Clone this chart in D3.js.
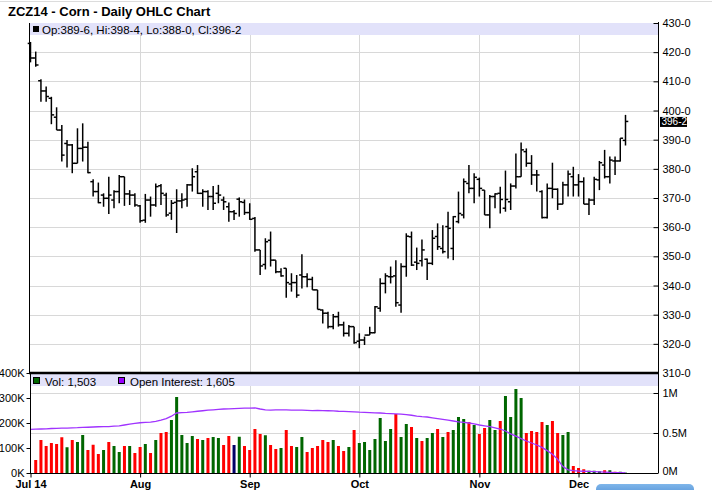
<!DOCTYPE html>
<html><head><meta charset="utf-8">
<script src="https://cdn.jsdelivr.net/npm/d3@7"></script>
<style>
body{margin:0;background:#fff;}
svg{display:block;font-family:"Liberation Sans",Arial,sans-serif;}
</style>
</head><body>
<svg id="c" width="712" height="490"></svg>
<script>
const title = "ZCZ14 - Corn - Daily OHLC Chart";
const monthLabels = ["Jul 14","Aug","Sep","Oct","Nov","Dec"];
const monthStartIdx = [0,21,42,63,86,105];

const opens = [423,418,410.2,406.7,404.2,397.7,393.3,388.7,388.2,381.9,387,387.4,375.6,372.2,371,369.9,369.3,372.2,377.3,371.4,371,367.3,362.4,369.3,367.6,374.2,371,364.8,368.5,369,369.6,374.5,379,371.6,372.2,370.5,371.6,369.3,367,365.3,369.6,368.5,365,363,352.2,347.2,355.5,348.7,344.7,345.9,340.5,341,343.6,343,342.1,338.5,331.6,330.5,325.9,329.3,326.5,323.6,325.9,320.9,321.3,323,323.8,332.2,340.7,343,343.3,333.3,346.5,356.7,348,348.5,349,347.6,356.8,352.7,360.2,352.7,361.9,364.2,375,373.3,376.4,372.7,364.2,370.5,371.6,366.5,368.7,374.1,377.3,385.9,381.9,377.9,372.2,363.3,373.3,373,367.9,374.5,377.3,374.5,375.6,367.9,369.3,376.2,381.3,377.3,382.7,382.7,389.75];
const highs = [423.5,420.2,410.7,408.2,404.7,401.1,395,389.9,388.5,393.9,395.6,389.3,376.4,375.3,371.6,377.3,372.7,377.9,377.3,372.7,371.6,367.6,371.4,370.5,375,374.8,371.8,369.3,373,371.6,374.8,380.2,381.3,373,372.7,374.1,374.5,370.5,368.5,365.9,370.2,369.5,368.2,363.5,352.2,356.2,358.5,348.7,345.9,345.9,344.2,343.6,350.7,344.2,343,338.5,331.8,331,330.2,331,327.6,326.5,325.9,323.6,322.5,325.9,333,342.5,344.2,346.5,348.7,347.6,357.9,358.5,353,355.8,349.3,359,361.3,360.7,365.3,363.8,372.2,376.7,381.3,378.5,377,372.7,371,371.6,373.9,379.4,375,385.3,389,387,384.7,379.6,372.7,375,382.1,373.3,375.6,379.4,380.7,378.2,377.1,369.9,377.3,382.7,386.5,384.2,384.2,390.5,398.5];
const lows = [416.5,415,403,403,395.3,393.3,382.5,380.5,378.5,381.9,382.5,378.5,370.5,368.2,367,364.5,366.5,368.2,367.3,367.6,367,361.5,361.5,363.6,367,367.6,363.6,362.5,358,366.5,367,372.2,371.4,367,365.9,365.9,368.2,365.9,361.9,362.5,363.6,364.2,362.5,351.6,343.6,345.5,346.5,344.2,343,335.8,337.9,335.8,339,339.4,338.5,331.8,327,325.3,325,325.9,322.5,322.5,320,318.5,319.6,323,323.6,331,337.3,340.7,332.7,330.7,343,346.7,345.3,346.5,341.9,347,352.2,351,349.3,348.7,361.3,363,371.6,368.2,370.5,364.2,359.6,366.5,364.7,365.3,365.9,373.3,377.3,380.7,374.5,372.2,363,363,369.9,365.9,367.9,370.5,370.5,370.5,367.9,364.2,367.6,372.7,376.7,375,377.9,382.5,388];
const closes = [418,415.6,406.7,404.8,398.5,393.3,384.7,388.2,381.9,387,387.4,378.7,372.2,368.4,369.9,371,372.2,377.3,371.4,371,367.6,362.2,369.3,367.6,373.9,371.6,364.2,368.2,369,369.3,374.5,377.3,371.6,372.2,370.5,368.2,371,368.7,365.3,364.7,368.7,365,362.7,352.2,346.7,355,348.7,344.7,343.3,341,341,336.7,343,342.1,338.5,331.8,330.5,325.9,329.3,326.5,323.6,325.9,320.4,321.3,323,323.8,332.7,340.7,343.3,343,334.1,346.5,356.9,347,347.6,352.2,347.6,356.2,353.3,351.6,359.6,363.6,364.7,375.6,373.3,377.1,373.3,364.2,370.5,371.4,369.5,369.5,374.1,377.3,386.5,381.9,377.9,377.9,363.3,373.3,373,367.9,374.5,378.2,374.5,375.6,367.9,369.3,376.4,382.1,377.3,383,382.7,390.5,396.25];

// volume in thousands (index 0 hidden behind the axis)
const volumes = [null,52,132,108,120,116,143,103,132,124,152,92,113,76,92,124,108,84,108,108,80,104,116,80,132,160,164,212,304,152,120,148,136,132,140,144,140,112,148,112,145,108,92,176,156,151,112,96,100,172,108,104,144,84,100,108,132,124,132,108,88,104,172,120,124,92,136,220,128,176,236,144,196,184,140,128,140,160,176,144,164,172,224,216,204,192,156,180,212,172,208,308,224,336,300,160,168,164,204,192,208,160,152,164,28,20,15,9,9,7,11,11,5,5,1.503];
// volume bar colour codes: G = up, R = down, N = unchanged
const volColors = ["-","R","R","R","R","R","R","G","R","G","G","R","R","R","G","R","G","G","R","G","R","R","G","R","G","R","R","G","G","G","G","G","R","G","R","G","G","R","R","N","G","R","R","R","R","G","R","R","G","R","R","G","G","R","R","R","R","R","G","R","R","G","R","G","G","G","G","G","G","G","R","G","G","R","G","R","G","G","R","G","R","G","G","G","R","G","R","R","G","G","R","G","G","G","G","R","R","R","R","G","R","R","G","G","R","R","R","G","G","G","R","G","R","G","G"];
// open interest in millions
const openInterest = [0.546,0.548,0.55,0.552,0.556,0.558,0.56,0.562,0.564,0.566,0.57,0.572,0.575,0.578,0.58,0.58,0.585,0.59,0.6,0.61,0.62,0.628,0.632,0.636,0.645,0.66,0.68,0.71,0.75,0.755,0.758,0.765,0.772,0.778,0.785,0.79,0.795,0.8,0.802,0.805,0.807,0.81,0.812,0.815,0.8,0.79,0.787,0.788,0.79,0.788,0.786,0.785,0.786,0.784,0.78,0.782,0.78,0.778,0.776,0.772,0.77,0.768,0.765,0.76,0.758,0.755,0.752,0.75,0.745,0.742,0.738,0.735,0.73,0.722,0.712,0.705,0.7,0.69,0.68,0.67,0.66,0.65,0.64,0.633,0.625,0.615,0.6,0.59,0.58,0.565,0.55,0.525,0.49,0.46,0.43,0.4,0.375,0.35,0.32,0.28,0.235,0.17,0.08,0.04,0.03,0.025,0.022,0.02,0.018,0.015,0.012,0.008,0.005,0.003,0.001605];

const priceTicks = [430,420,410,400,390,380,370,360,350,340,330,320,310];
const volTicks = [0,100,200,300,400];
const oiTicks = [0,0.5,1];

const colorMap = {G:"#006600", R:"#ff0000", N:"#000066"};
const FONT = "Liberation Sans, Arial, sans-serif";

const svg = d3.select("#c");
const n = closes.length;

const L = 30, R = 658;
const x = d3.scaleLinear().domain([0, n-1]).range([30.5, 625.5]);
const y = d3.scaleLinear().domain([310,430]).range([373,23]);
const yv = d3.scaleLinear().domain([0,400]).range([473,373]);
const yoi = d3.scaleLinear().domain([0,1.25]).range([473,373]);

const fmtPrice = p => { const w = Math.floor(p + 1e-9); return w + "-" + Math.round((p - w) * 8); };

// top faint line
svg.append("line").attr("x1",0).attr("x2",712).attr("y1",1.5).attr("y2",1.5).attr("stroke","#dcdcdc");

// title
svg.append("text").attr("x",8).attr("y",15.5).attr("font-size",13).attr("font-weight","bold").attr("fill","#000").text(title);

// ---------- grids ----------
const g = svg.append("g");
g.selectAll("line.hg").data(priceTicks.filter(t=>t>310 && t<430)).join("line")
  .attr("x1",L).attr("x2",R).attr("y1",d=>Math.round(y(d))+0.5).attr("y2",d=>Math.round(y(d))+0.5)
  .attr("stroke","#d8d8d8");
g.selectAll("line.vg").data(monthStartIdx.slice(1)).join("line")
  .attr("x1",d=>Math.round(x(d))+0.5).attr("x2",d=>Math.round(x(d))+0.5).attr("y1",35).attr("y2",473)
  .attr("stroke","#d8d8d8");
g.selectAll("line.og").data(oiTicks.filter(t=>t>0)).join("line")
  .attr("x1",L).attr("x2",R).attr("y1",d=>Math.round(yoi(d))+0.5).attr("y2",d=>Math.round(yoi(d))+0.5)
  .attr("stroke","#d8d8d8");

// ---------- legend band (price) ----------
svg.append("rect").attr("x",L).attr("y",23).attr("width",R-L).attr("height",12).attr("fill","#e2e2fa");
const last = n-1;
svg.append("rect").attr("x",33).attr("y",26).attr("width",6).attr("height",6).attr("fill","#000");
svg.append("text").attr("x",42).attr("y",33.5).attr("font-size",11.5).attr("fill","#000")
  .text(`Op:${fmtPrice(opens[last])}, Hi:${fmtPrice(highs[last])}, Lo:${fmtPrice(lows[last])}, Cl:${fmtPrice(closes[last])}`);

// ---------- OHLC bars ----------
const bars = svg.append("g").attr("stroke","#000").attr("stroke-width",1.5);
const idx = d3.range(n);
bars.selectAll("line.hl").data(idx).join("line")
  .attr("x1",i=>x(i)).attr("x2",i=>x(i)).attr("y1",i=>y(highs[i])).attr("y2",i=>y(lows[i]));
bars.selectAll("line.o").data(idx).join("line").attr("class","o")
  .attr("x1",i=>x(i)-2.8).attr("x2",i=>x(i)).attr("y1",i=>y(opens[i])).attr("y2",i=>y(opens[i]));
bars.selectAll("line.c").data(idx).join("line").attr("class","c")
  .attr("x1",i=>x(i)).attr("x2",i=>x(i)+2.8).attr("y1",i=>y(closes[i])).attr("y2",i=>y(closes[i]));

// ---------- volume panel ----------
svg.append("rect").attr("x",L).attr("y",374).attr("width",R-L).attr("height",12).attr("fill","#e2e2fa");
svg.selectAll("rect.vol").data(idx.filter(i=>volumes[i]!=null)).join("rect").attr("class","vol")
  .attr("x",i=>x(i)-1.5).attr("width",3)
  .attr("y",i=>yv(volumes[i])).attr("height",i=>yv(0)-yv(volumes[i]))
  .attr("fill",i=>colorMap[volColors[i]]);

svg.append("path").datum(idx).attr("fill","none").attr("stroke","#a033ff").attr("stroke-width",1.3)
  .attr("d", d3.line().x(i=>x(i)).y(i=>yoi(openInterest[i])));

// volume legend
svg.append("rect").attr("x",33.5).attr("y",377.5).attr("width",6).attr("height",6).attr("fill","#006600").attr("stroke","#000");
svg.append("text").attr("x",45).attr("y",385.5).attr("font-size",11.5).text("Vol: " + d3.format(",")(Math.round(volumes[last]*1000)));
svg.append("rect").attr("x",118.5).attr("y",377.5).attr("width",6).attr("height",6).attr("fill","#9900ff").attr("stroke","#000");
svg.append("text").attr("x",130).attr("y",385.5).attr("font-size",11.5).text("Open Interest: " + d3.format(",")(Math.round(openInterest[last]*1e6)));

// separator line
svg.append("line").attr("x1",L-1).attr("x2",R).attr("y1",373).attr("y2",373).attr("stroke","#000").attr("stroke-width",2.5);

// ---------- axes ----------
svg.append("line").attr("x1",L-0.5).attr("x2",L-0.5).attr("y1",23).attr("y2",373).attr("stroke","#000");
const axR = d3.axisRight(y).tickValues(priceTicks).tickSize(0).tickPadding(0).tickFormat(fmtPrice);
const gR = svg.append("g").attr("transform",`translate(${R+0.5},0)`).call(axR);
gR.select(".domain").remove();
gR.selectAll("text").attr("x",4).attr("font-size",11).attr("font-family",FONT).attr("fill","#000");
gR.selectAll(".tick").append("line").attr("x1",-5).attr("x2",0).attr("stroke","#000");
svg.append("line").attr("x1",R+0.5).attr("x2",R+0.5).attr("y1",22).attr("y2",473).attr("stroke","#000");

// current price label
const cy = y(closes[last]);
svg.append("rect").attr("x",R+2).attr("y",cy-4.5).attr("width",27).attr("height",10).attr("fill","#000");
svg.append("text").attr("x",R+3.5).attr("y",cy+4).attr("font-size",10).attr("fill","#fff").text(fmtPrice(closes[last]));

// right OI axis
const axOI = d3.axisRight(yoi).tickValues(oiTicks).tickSize(0).tickFormat(d=>d+"M");
const gOI = svg.append("g").attr("transform",`translate(${R+0.5},0)`).call(axOI);
gOI.select(".domain").remove();
gOI.selectAll("text").attr("x",4).attr("font-size",11).attr("font-family",FONT).attr("fill","#000");
gOI.selectAll(".tick").append("line").attr("x1",-5).attr("x2",0).attr("stroke","#000");
gOI.selectAll(".tick").filter(d=>d===0).select("text").attr("dy","0.1em");

// left volume axis
const axV = d3.axisLeft(yv).tickValues(volTicks).tickSize(4).tickPadding(2).tickFormat(d=>d+"K");
const gV = svg.append("g").attr("transform",`translate(${L+0.5},0)`).call(axV);
gV.select(".domain").attr("d",`M0,373V473`).attr("stroke","#000");
gV.selectAll("text").attr("font-size",11).attr("font-family",FONT).attr("fill","#000");
gV.selectAll("line").attr("stroke","#000");

// bottom axis
svg.append("line").attr("x1",L).attr("x2",R).attr("y1",473.5).attr("y2",473.5).attr("stroke","#000");
const axB = d3.axisBottom(x).tickValues(monthStartIdx).tickSize(4).tickPadding(3).tickFormat((d,i)=>monthLabels[i]);
const gB = svg.append("g").attr("transform","translate(0,473.5)").call(axB);
gB.select(".domain").remove();
gB.selectAll("line").attr("stroke","#000");
gB.selectAll("text").attr("font-size",11).attr("font-weight","bold").attr("font-family",FONT).attr("fill","#000");

// blue button at bottom right
const defs = svg.append("defs");
const grad = defs.append("linearGradient").attr("id","btn").attr("x1",0).attr("x2",0).attr("y1",0).attr("y2",1);
grad.append("stop").attr("offset","0%").attr("stop-color","#7fb6ea");
grad.append("stop").attr("offset","100%").attr("stop-color","#4a8ad2");
svg.append("rect").attr("x",596).attr("y",484).attr("width",98).attr("height",14).attr("rx",5).attr("fill","url(#btn)");
</script>
</body></html>
